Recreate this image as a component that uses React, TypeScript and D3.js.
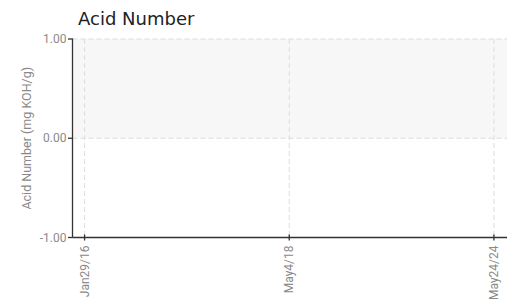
import React from "react";
import * as d3 from "d3";

const categories: string[] = ["Jan29/16", "May4/18", "May24/24"];
const yTicks: number[] = [-1, 0, 1];
const yDomain: [number, number] = [-1, 1];
const bandRange: [number, number] = [0, 1];
const title = "Acid Number";
const yTitle = "Acid Number (mg KOH/g)";

const W = 507;
const H = 302;
const M = { left: 72.5, right: 1, top: 39, bottom: 64.5 };

const fmt = (t: number) => d3.format(".2f")(t).replace("\u2212", "-");

export default function App() {
  const x = d3
    .scalePoint<string>()
    .domain(categories)
    .range([M.left, W - M.right])
    .padding(0.059);
  const y = d3.scaleLinear().domain(yDomain).range([H - M.bottom, M.top]);
  const x0 = M.left;
  const x1 = W - M.right;
  const axisY = y(yDomain[0]);
  const grid = "#dcdcdc";
  const labelColor = "#8a8a8a";
  const font = "Roboto, sans-serif";
  return (
    <svg
      width={W}
      height={H}
      style={{ position: "absolute", left: 0, top: 0, background: "#fff" }}
    >
      <rect
        x={x0}
        y={y(bandRange[1])}
        width={x1 - x0 + 1}
        height={y(bandRange[0]) - y(bandRange[1])}
        fill="#f7f7f7"
      />
      {yTicks
        .filter((t) => t !== yDomain[0])
        .map((t) => (
          <line
            key={"gy" + t}
            x1={x0}
            x2={W}
            y1={y(t)}
            y2={y(t)}
            stroke={grid}
            strokeDasharray="5,3"
          />
        ))}
      {categories.map((c) => (
        <line
          key={"gx" + c}
          x1={x(c)}
          x2={x(c)}
          y1={y(yDomain[1])}
          y2={axisY}
          stroke={grid}
          strokeDasharray="5,3"
        />
      ))}
      <line x1={x0} x2={x0} y1={y(yDomain[1]) - 0.5} y2={axisY} stroke="#333" strokeWidth={1.3} />
      {yTicks.map((t) => (
        <g key={"yt" + t}>
          <line x1={x0 - 4.5} x2={x0} y1={y(t)} y2={y(t)} stroke="#333" strokeWidth={1.3} />
          <text
            x={x0 - 6}
            y={y(t)}
            dy="0.35em"
            textAnchor="end"
            fontFamily={font}
            fontSize={12}
            fill={labelColor}
          >
            {fmt(t)}
          </text>
        </g>
      ))}
      <line x1={x0} x2={W} y1={axisY} y2={axisY} stroke="#333" strokeWidth={1.3} />
      {categories.map((c) => (
        <g key={"xt" + c}>
          <line
            x1={x(c)}
            x2={x(c)}
            y1={axisY - 3}
            y2={axisY + 3}
            stroke="#333"
            strokeWidth={1.3}
          />
          <text
            transform={`translate(${x(c)},${axisY + 8}) rotate(-90)`}
            dy="0.35em"
            textAnchor="end"
            fontFamily={font}
            fontSize={12}
            fill={labelColor}
          >
            {c}
          </text>
        </g>
      ))}
      <text
        transform={`translate(27,${(y(yDomain[0]) + y(yDomain[1])) / 2}) rotate(-90)`}
        dy="0.35em"
        textAnchor="middle"
        fontFamily={font}
        fontSize={12.5}
        fill={labelColor}
      >
        {yTitle}
      </text>
      <text
        x={78}
        y={25}
        fontFamily="'DejaVu Sans', sans-serif"
        fontSize={18}
        fill="#222"
      >
        {title}
      </text>
    </svg>
  );
}
